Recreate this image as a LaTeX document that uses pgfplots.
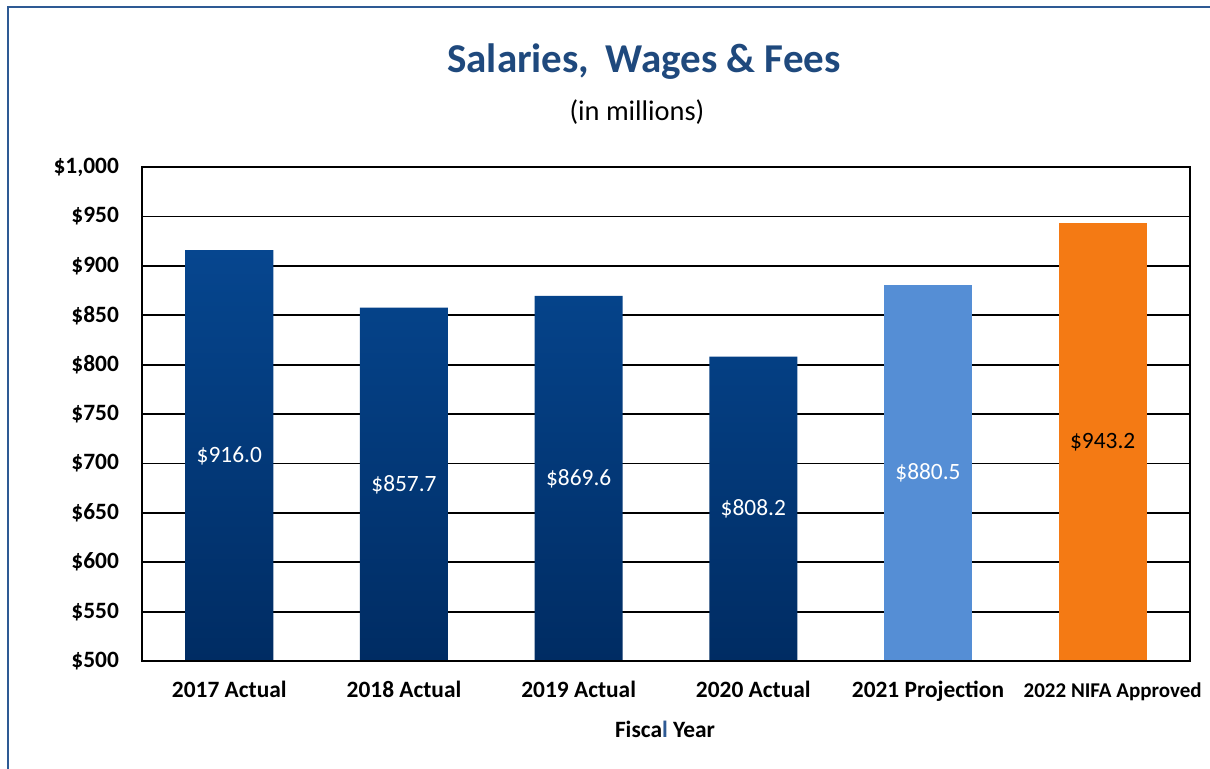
\documentclass[border=0pt]{standalone}
\usepackage{fontspec}
\setmainfont{Carlito}
\usepackage{pgfplots}
\usepackage{pgfplotstable}
\pgfplotsset{compat=1.18}

\definecolor{titleblue}{RGB}{31,73,125}
\definecolor{bartop}{RGB}{6,70,143}
\definecolor{barbot}{RGB}{0,44,99}
\definecolor{projblue}{RGB}{85,142,213}
\definecolor{nifaorange}{RGB}{244,122,20}
\definecolor{framecol}{RGB}{46,90,148}
\definecolor{baseline}{RGB}{166,184,212}

% values in millions of dollars
\pgfplotstableread{
x v
0 916.0
1 857.7
2 869.6
3 808.2
}\actuals
\pgfplotstableread{
x v
4 880.5
}\projection
\pgfplotstableread{
x v
5 943.2
}\approved

\pgfplotsset{
  midlabel/.style={
    only marks, mark=none,
    point meta=\thisrow{v},
    nodes near coords={\$\pgfmathprintnumber[fixed,fixed zerofill,precision=1,assume math mode=true]{\pgfplotspointmeta}},
    every node near coord/.append style={anchor=center, font=\fontsize{11.7}{14}\selectfont, text=#1},
  },
  colbar/.style={ybar, bar width=44pt, bar shift=0pt, draw=none},
}

\begin{document}
\begin{tikzpicture}
  \useasboundingbox (-71pt,-53.5pt) rectangle (534pt,330.5pt);
  % outer frame (left and top edges visible)
  \draw[framecol, line width=1.1pt] (-67pt,-60pt) -- (-67pt,327pt) -- (540pt,327pt);

  \begin{axis}[
      name=ax,
      at={(0,0)}, anchor=south west,
      scale only axis,
      width=524pt, height=247pt,
      xmin=-0.5, xmax=5.5,
      ymin=500, ymax=1000,
      ytick={500,550,...,1000},
      xtick={0,...,5},
      xticklabels={2017 Actual, 2018 Actual, 2019 Actual, 2020 Actual, 2021 Projection,
        {\hspace*{10pt}\fontsize{10.5}{12}\selectfont 2022 NIFA Approved}},
      yticklabel={\$\pgfmathprintnumber{\tick}},
      /pgf/number format/.cd, 1000 sep={,}, assume math mode=true, /pgfplots/.cd,
      ticklabel style={font=\bfseries\fontsize{11.7}{14}\selectfont},
      xticklabel style={anchor=base, yshift=-18pt},
      yticklabel style={xshift=-8pt},
      major tick length=0pt,
      ymajorgrids,
      grid style={black, line width=0.9pt},
      axis line style={black, line width=1pt},
      clip=false,
    ]
    \addplot[colbar, top color=bartop, bottom color=barbot] table[x=x, y=v] {\actuals};
    \addplot[colbar, fill=projblue] table[x=x, y=v] {\projection};
    \addplot[colbar, fill=nifaorange] table[x=x, y=v] {\approved};

    \addplot[midlabel=white] table[x=x, y expr=(\thisrow{v}+500)/2] {\actuals};
    \addplot[midlabel=white] table[x=x, y expr=(\thisrow{v}+500)/2] {\projection};
    \addplot[midlabel=black] table[x=x, y expr=(\thisrow{v}+500)/2] {\approved};
  \end{axis}
  % light category axis line over the black frame
  \draw[baseline, line width=1.2pt] ([xshift=0.5pt]ax.south west) -- (ax.south east);

  \node[text=titleblue, font=\bfseries\fontsize{20.5}{24}\selectfont] at (251pt,299.5pt) {Salaries,\, Wages \& Fees};
  \node[font=\fontsize{14.2}{17}\selectfont] at (247.5pt,274.5pt) {(in millions)};
  \node[font=\bfseries\fontsize{11.7}{14}\selectfont] at (261.5pt,-34pt) {Fisca{\color{framecol}l} Year};
\end{tikzpicture}
\end{document}
